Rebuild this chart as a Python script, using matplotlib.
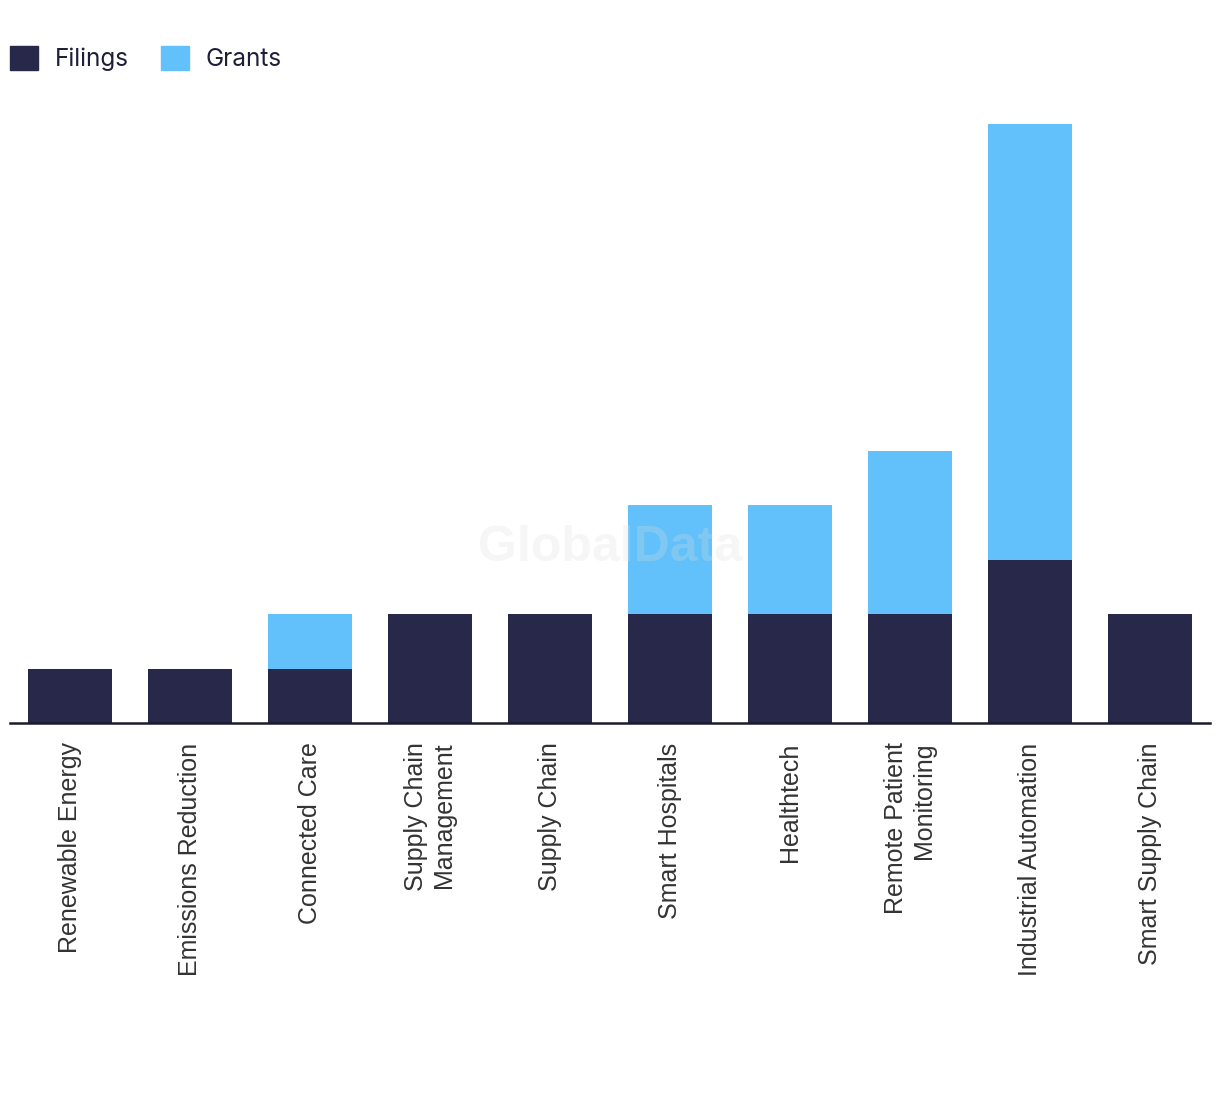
import matplotlib.pyplot as plt
from matplotlib.patches import Patch

# chart data
categories = ['Renewable Energy', 'Emissions Reduction', 'Connected Care',
              'Supply Chain\nManagement', 'Supply Chain', 'Smart Hospitals',
              'Healthtech', 'Remote Patient\nMonitoring', 'Industrial Automation',
              'Smart Supply Chain']
filings = [1, 1, 1, 2, 2, 2, 2, 2, 3, 2]
grants = [0, 0, 1, 0, 0, 2, 2, 3, 8, 0]

navy = '#27284a'
blue = '#62c1fa'

fig = plt.figure(figsize=(12.2, 10.94), dpi=100)
ax = fig.add_axes([10 / 1220, 371 / 1094, 1200 / 1220, 654 / 1094])

x = list(range(len(categories)))
ax.bar(x, filings, width=0.7, color=navy, zorder=2)
ax.bar(x, grants, width=0.7, bottom=filings, color=blue, zorder=2)

ax.set_xlim(-0.5, len(categories) - 0.5)
ax.set_ylim(0, 12)

for s in ['top', 'right', 'left']:
    ax.spines[s].set_visible(False)
ax.spines['bottom'].set_color('#1a1a2e')
ax.spines['bottom'].set_linewidth(1.8)
ax.spines['bottom'].set_zorder(3)
ax.set_yticks([])
ax.set_xticks(x)
ax.set_xticklabels(categories, rotation=90, fontsize=18, color='#333333',
                   family='Liberation Sans', ha='center', va='top',
                   multialignment='right', linespacing=1.25)
ax.tick_params(axis='x', length=0, pad=14)

# watermark
fig.text(0.5, 1 - 548 / 1094, 'GlobalData', ha='center', va='center',
         fontsize=36, fontweight='bold', family='Liberation Sans',
         color='#dddddd', alpha=0.25, zorder=5)

handles = [Patch(color=navy, label='Filings'), Patch(color=blue, label='Grants')]
fig.legend(handles=handles, loc='upper left', bbox_to_anchor=(10 / 1220, 1 - 46 / 1094),
           ncol=2, frameon=False, prop={'family': 'Inter', 'size': 17.5},
           handlelength=1.15, handleheight=1.15, handletextpad=0.7,
           columnspacing=1.3, labelcolor='#1e1e3a', borderaxespad=0, borderpad=0)

fig.savefig('out.png', dpi=100)
